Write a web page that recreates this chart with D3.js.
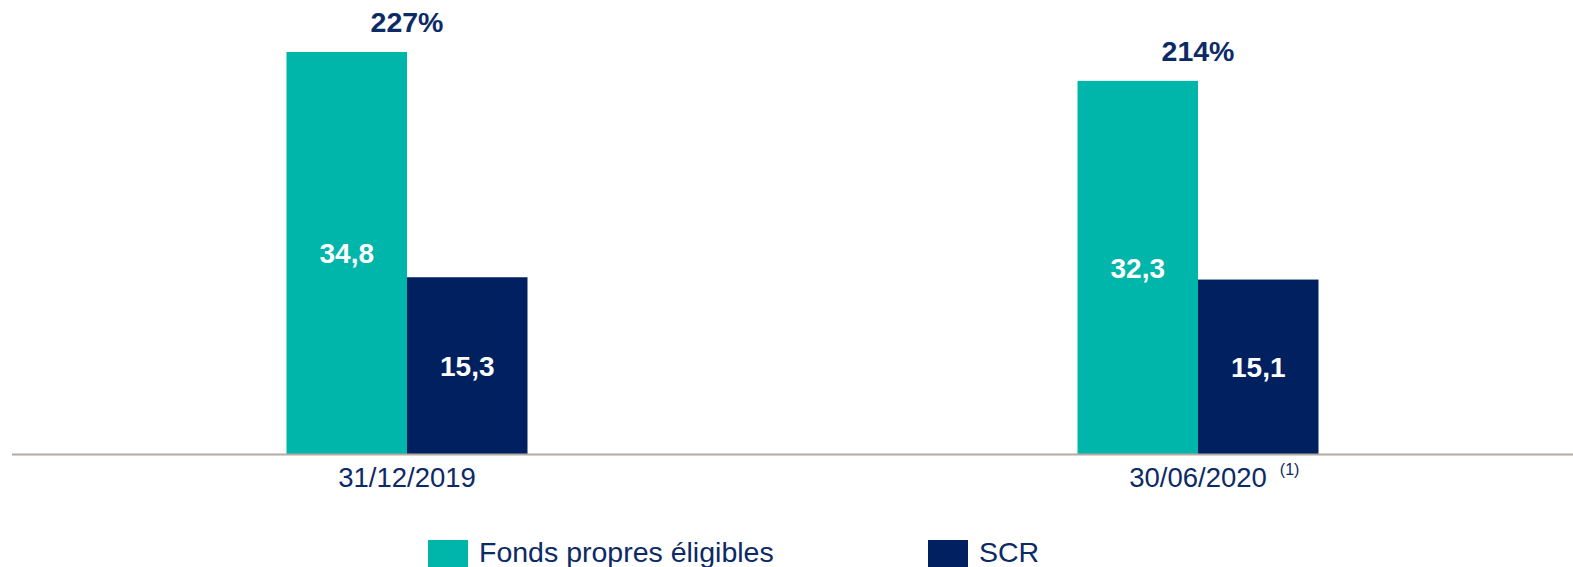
<!DOCTYPE html>
<html><head><meta charset="utf-8">
<script src="https://cdn.jsdelivr.net/npm/d3@7"></script>
<style>html,body{margin:0;padding:0;background:#fff;}svg{display:block;font-family:Arial,"Liberation Sans",sans-serif;}</style>
</head><body>
<svg id="chart" width="1573" height="567"></svg>
<script>
const categories = ["31/12/2019", "30/06/2020"];
const footnotes = ["", "(1)"];
const series = ["Fonds propres éligibles", "SCR"];
const fondsPropres = [34.8, 32.3];
const scr = [15.3, 15.1];
const ratios = ["227%", "214%"];
const valueLabels = { "Fonds propres éligibles": ["34,8", "32,3"], "SCR": ["15,3", "15,1"] };

const colors = { "Fonds propres éligibles": "#00b5aa", "SCR": "#002060" };
const textNavy = "#0c2a66";

const svg = d3.select("#chart");
const baseY = 454;

const y = d3.scaleLinear().domain([0, 39.3]).range([baseY, 0]);
const x0 = d3.scaleBand().domain(categories).range([11.5, 1593.5]).padding(0);
const x1 = d3.scaleBand().domain(series).range([0, 241]).padding(0);
const half = 120.5;

const rows = categories.map((c, i) => ({
  cat: c,
  vals: [
    { s: series[0], v: fondsPropres[i], lab: valueLabels[series[0]][i] },
    { s: series[1], v: scr[i], lab: valueLabels[series[1]][i] }
  ],
  ratio: ratios[i],
  fn: footnotes[i]
}));

const groups = svg.selectAll("g.grp").data(rows).join("g")
  .attr("class", "grp")
  .attr("transform", d => `translate(${x0(d.cat) + x0.bandwidth() / 2 - half},0)`);

groups.selectAll("rect").data(d => d.vals).join("rect")
  .attr("x", d => x1(d.s))
  .attr("width", x1.bandwidth())
  .attr("y", d => y(d.v))
  .attr("height", d => baseY - y(d.v))
  .attr("fill", d => colors[d.s]);

groups.selectAll("text.val").data(d => d.vals).join("text")
  .attr("class", "val")
  .attr("x", d => x1(d.s) + x1.bandwidth() / 2)
  .attr("y", d => (y(d.v) + baseY) / 2)
  .attr("dy", "0.36em")
  .attr("text-anchor", "middle")
  .attr("fill", "#fff")
  .attr("font-weight", "bold")
  .attr("font-size", 28)
  .text(d => d.lab);

groups.append("text")
  .attr("x", half)
  .attr("y", d => y(d.vals[0].v) - 20)
  .attr("text-anchor", "middle")
  .attr("fill", textNavy)
  .attr("font-weight", "bold")
  .attr("font-size", 28.5)
  .text(d => d.ratio);

// axis
const axis = svg.append("g").attr("transform", `translate(0,${baseY})`)
  .call(d3.axisBottom(x0).tickSize(0).tickPadding(13));
axis.select(".domain").attr("stroke", "#b4aaa2").attr("stroke-width", 2);
axis.selectAll(".tick text").attr("font-size", 27.5).attr("fill", textNavy)
  .attr("font-family", "Arial, 'Liberation Sans', sans-serif");

axis.selectAll(".tick").each(function (d) {
  const fn = footnotes[categories.indexOf(d)];
  if (!fn) return;
  const t = d3.select(this).select("text");
  const len = t.node().getComputedTextLength();
  d3.select(this).append("text")
    .attr("x", len / 2 + 13)
    .attr("y", 21)
    .attr("fill", textNavy)
    .attr("font-size", 16)
    .attr("text-anchor", "start")
    .attr("font-family", "Arial, 'Liberation Sans', sans-serif")
    .text(fn);
});

// legend
const legendX = [428, 928];
const leg = svg.selectAll("g.leg").data(series).join("g")
  .attr("class", "leg")
  .attr("transform", (d, i) => `translate(${legendX[i]},540)`);
leg.append("rect").attr("width", 40).attr("height", 27).attr("fill", d => colors[d]);
leg.append("text").attr("x", 51).attr("y", 22)
  .attr("font-size", 28.5).attr("fill", textNavy).text(d => d);
</script>
</body></html>
